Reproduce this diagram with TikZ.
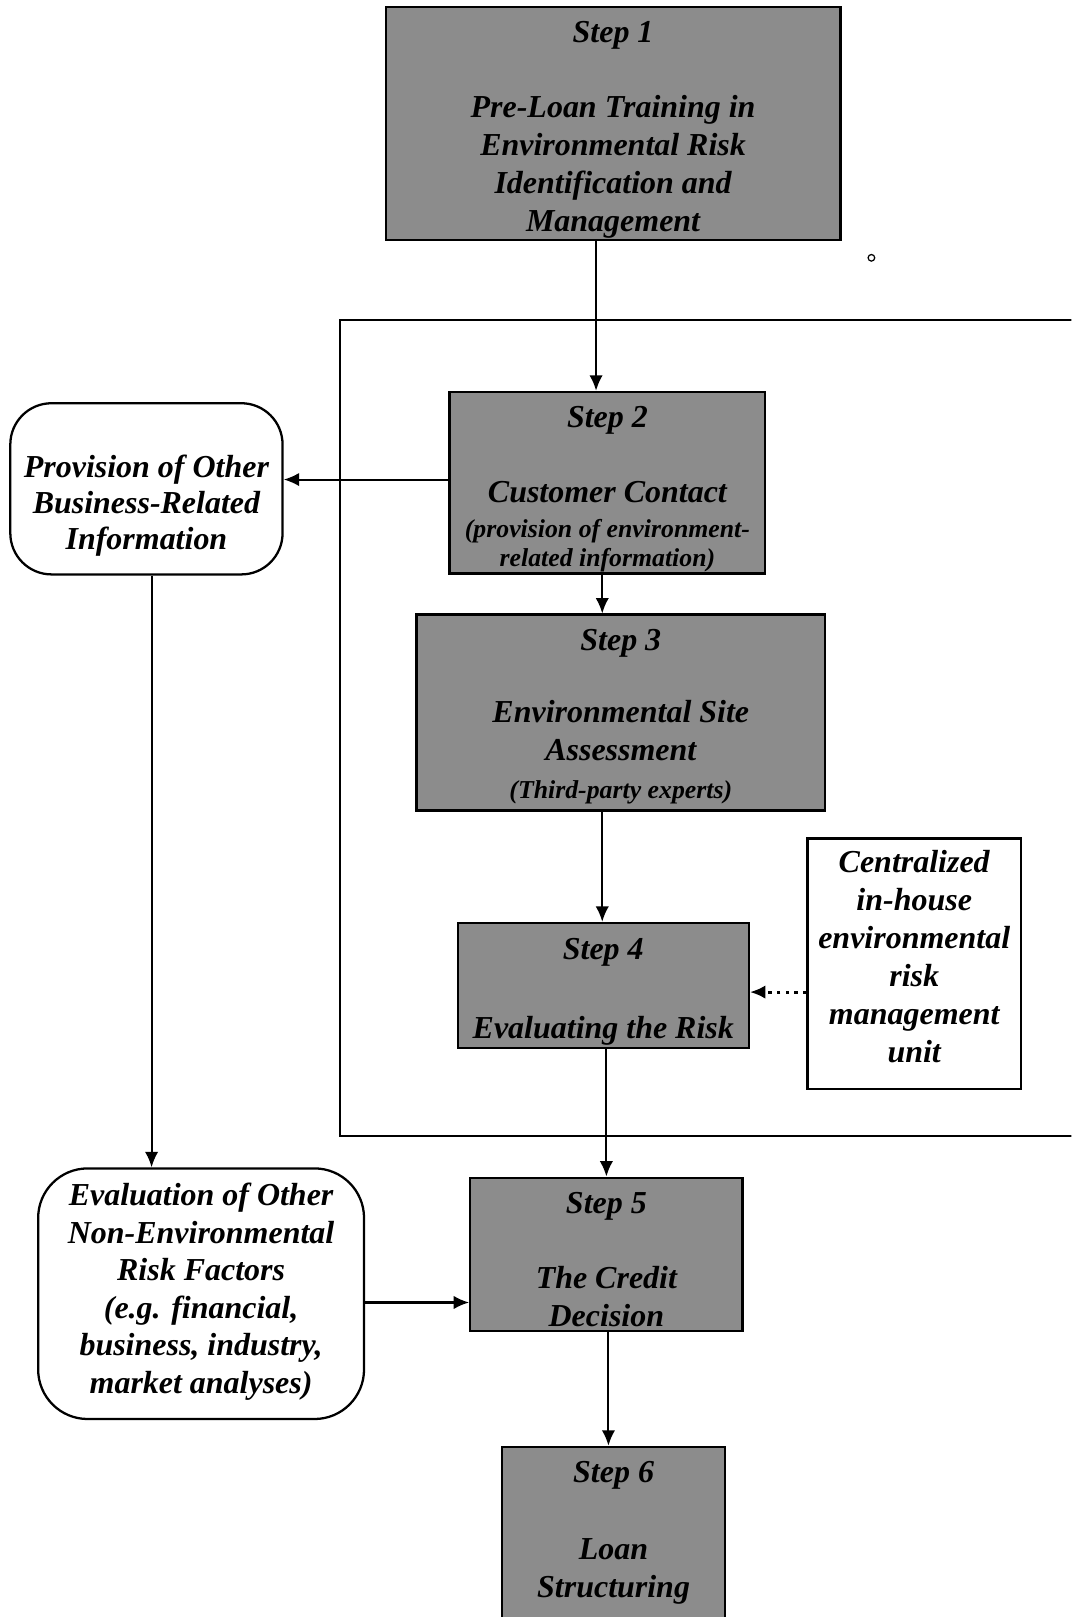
\documentclass[tikz,border=0pt]{standalone}
\usepackage{fontspec}
\setmainfont{Liberation Serif}
\usetikzlibrary{arrows.meta}
\def\bigfont{\fontsize{15.5}{18.5}\selectfont}
\def\smallfont{\fontsize{12.5}{14}\selectfont}
\def\framelines{(1050,310) -| (330,1102) -- (1050,1102)}
\tikzset{
  boxtext/.style={align=center, inner sep=0pt, font=\bfseries\itshape\bigfont},
  stepbox/.style={draw, line width=1.1pt, fill=black!45},
  sidebox/.style={draw, line width=1.1pt, rounded corners=20pt, fill=white},
  unitbox/.style={draw, line width=1.1pt, fill=white},
  flow/.style={-{Latex[length=7.5pt,width=6.5pt]}, line width=1pt}
}
\begin{document}
\begin{tikzpicture}[x=0.5pt,y=-0.5pt]
\clip (0,0) rectangle (1039,1568);
\fill[white] (0,0) rectangle (1039,1568);

%frame round steps 2 to 4
\draw[line width=1pt] \framelines;
\draw[line width=0.6pt] (845,250) circle (1.6pt);

\node[stepbox, minimum width=220.5pt, minimum height=113pt,
  label={[boxtext, yshift=-3pt]center:{Step 1\\[17.5pt] Pre-Loan Training in\\ Environmental Risk\\ Identification and\\ Management}}]
  (step1) at (594.5,120) {};
\node[stepbox, minimum width=153pt, minimum height=88pt,
  label={[boxtext, yshift=-3pt]center:{Step 2\\[18pt] Customer Contact\\[-1.5pt] {\smallfont (provision of environment-}\\[-4.5pt] {\smallfont related information)}}}]
  (step2) at (589,468) {};
\node[stepbox, minimum width=198pt, minimum height=95pt,
  label={[boxtext, yshift=-2pt]center:{Step 3\\[16.5pt] Environmental Site\\ Assessment\\ {\smallfont (Third-party experts)}}}]
  (step3) at (602,691) {};
\node[stepbox, minimum width=141pt, minimum height=60.5pt,
  label={[boxtext, yshift=-3pt]center:{Step 4\\[20pt] Evaluating the Risk}}]
  (step4) at (585,955.5) {};
\node[stepbox, minimum width=132pt, minimum height=74.5pt,
  label={[boxtext, yshift=-2.5pt]center:{Step 5\\[18pt] The Credit\\ Decision}}]
  (step5) at (588,1216.5) {};
\node[stepbox, minimum width=108pt, minimum height=88.5pt,
  label={[boxtext, yshift=2.5pt]center:{Step 6\\[18.5pt] Loan\\ Structuring}}]
  (step6) at (595,1491.5) {};

\node[sidebox, minimum width=132pt, minimum height=83pt,
  label={[boxtext, yshift=-8pt]center:{Provision of Other\\[-1pt] Business-Related\\[-1pt] Information}}]
  (prov) at (142,474) {};
\node[sidebox, minimum width=158pt, minimum height=121.5pt, rounded corners=24pt,
  label={[boxtext, yshift=1pt]center:{Evaluation of Other\\[-0.3pt] Non-Environmental\\[-0.3pt] Risk Factors\\[-0.3pt] (e.g. financial,\\[-0.3pt] business, industry,\\[-0.3pt] market analyses)}}]
  (eval) at (195,1254.5) {};
\node[unitbox, minimum width=103.5pt, minimum height=121.5pt,
  label={[boxtext, yshift=3.5pt]center:{Centralized\\ in-house\\ environmental\\ risk\\ management\\ unit}}]
  (unit) at (886.5,934.5) {};

%arrows
\draw[flow] ([xshift=-8.25pt]step1.south) -- ([xshift=-8.25pt]step1.south |- step2.north);
\draw[flow] ([xshift=-2.5pt]step2.south) -- ([xshift=-2.5pt]step2.south |- step3.north);
\draw[flow] ([xshift=-9pt]step3.south) -- ([xshift=-9pt]step3.south |- step4.north);
\draw[flow] ([xshift=1.5pt]step4.south) -- ([xshift=1.5pt]step4.south |- step5.north);
\draw[flow] ([xshift=1pt]step5.south) -- ([xshift=1pt]step5.south |- step6.north);
\draw[flow] ([yshift=1.5pt]step2.west) -- ([yshift=1.5pt]step2.west -| prov.east);
\draw[flow] ([xshift=2.5pt]prov.south) -- ([xshift=2.5pt]prov.south |- eval.north);
\draw[flow] ([yshift=-4.25pt]eval.east) -- ([yshift=-4.25pt]eval.east -| step5.west);
\draw[flow, line width=1.5pt, dash pattern=on 1.6pt off 2.6pt] ([yshift=-13.75pt]unit.west) -- ([yshift=-13.75pt]unit.west -| step4.east);
\end{tikzpicture}
\end{document}
